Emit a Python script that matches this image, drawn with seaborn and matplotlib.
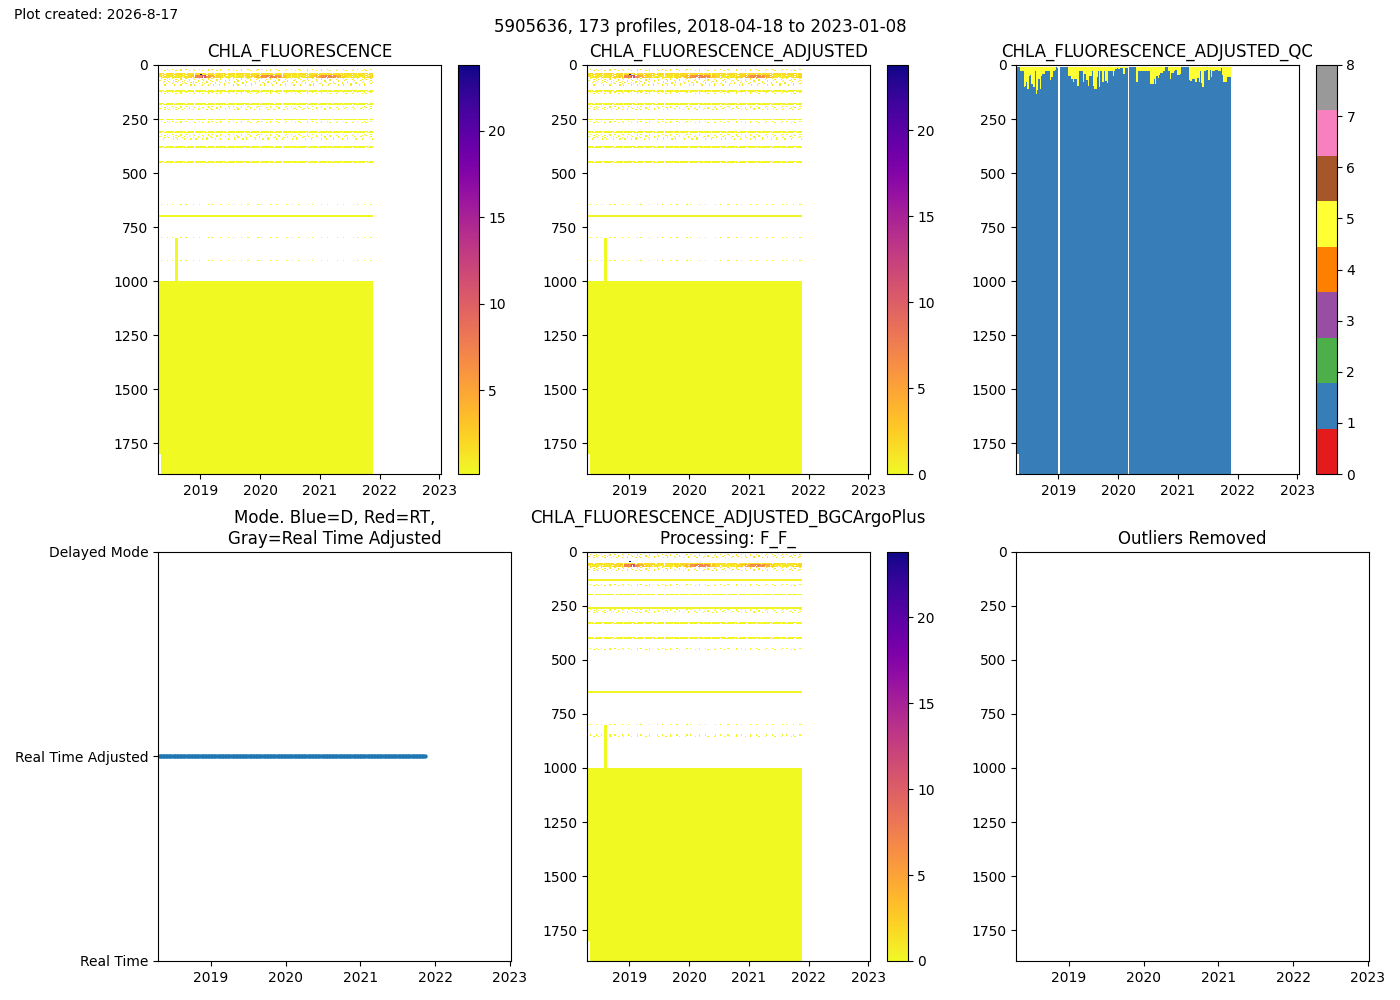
import numpy as np
import pandas as pd
import matplotlib
matplotlib.use("Agg")
import matplotlib.pyplot as plt
import matplotlib.dates as mdates
from matplotlib.colors import ListedColormap
import seaborn as sns

# Float info
float_id = "5905636"
n_profiles = 173
first_date = "2018-04-18"
last_edge_date = "2021-11-20"
title_end_date = "2023-01-08"
created = "2026-8-17"
max_pres = 1893
short_profiles = 2          # first profiles only reach 1800 m
short_bottom = 1800
deep_start = 1000

# Spike profiles (continuous samples from 800 m) and the single max value
spike_dates = ["2018-08-02", "2018-08-10"]
spike_top = 800
peak_date = "2019-01-03"
peak_depth = 42
peak_value = 23.8

# Chlorophyll near the bloom depth, month by month from 2018-04 to 2021-11
bloom_monthly = [1.5, 1.2, 1.0, 1.0, 1.0, 1.2, 1.5, 2.5, 7.0,
                 11.0, 6.0, 4.0, 2.0, 1.5, 1.0, 1.0, 1.0, 1.2, 1.5, 2.0, 3.5,
                 6.0, 7.0, 7.0, 6.0, 3.0, 1.5, 1.0, 1.0, 1.2, 1.5, 2.5, 4.5,
                 6.5, 7.0, 6.0, 4.0, 2.0, 1.2, 1.0, 1.0, 1.2, 1.5, 2.0]

# Sampled depth bands for CHLA_FLUORESCENCE (top, bottom, kind, value)
raw_tops = [22, 37, 45, 61, 118, 127, 178, 190, 250, 262, 307, 320, 379, 449, 646, 697, 796, 901]
raw_bottoms = [27, 45, 57, 93, 123, 131, 183, 210, 255, 266, 312, 345, 384, 454, 650, 702, 800, 904]
raw_kinds = ["sparse", "dashed", "dashed", "sparse", "dashed", "sparse", "dashed", "sparse",
             "dashed", "sparse", "dashed", "sparse", "dashed", "dashed", "sparse", "full",
             "sparse", "sparse"]
raw_values = [1.2, 1.5, None, 1.0, 0.5, 0.5, 0.4, 0.4, 0.3, 0.3, 0.3, 0.3, 0.25, 0.25,
              0.2, 0.2, 0.2, 0.2]
raw_deep = 0.15
adj_deep = 0.0

# Depth bands for the BGCArgoPlus product
plus_tops = [12, 52, 58, 70, 128, 154, 195, 257, 265, 326, 398, 448, 648, 796, 848]
plus_bottoms = [28, 57, 67, 88, 133, 158, 200, 262, 285, 331, 403, 452, 653, 800, 852]
plus_kinds = ["sparse", "dashed", "dashed", "sparse", "full", "sparse", "dashed", "full",
              "sparse", "dashed", "dashed", "sparse", "full", "sparse", "sparse"]
plus_values = [1.2, 1.5, None, 1.0, 0.5, 0.5, 0.4, 0.3, 0.3, 0.3, 0.25, 0.25, 0.2, 0.2, 0.2]

# Presence of a sample in a band, profile by profile
patterns_txt = {
    "full": "1" * n_profiles,
    "dashed": "111110111111101111111101111110111111111011111011111111101111110111111111110111111101"
              "111111111011111101111111111101111111101111111011111111110111111110111111111101111111101111111111",
    "sparse": "001000010001000000100010000010000100000010010000001000001000100000010000100000001001"
              "000000100001000000010001000001000000100010000001000010000000100001000000010010000010000100010000",
    "scattered": "101100101001101000110100101011001010011010010110010100110101100101001011010011001010"
                 "110010100101101001100101011001010010110100110100101011001010011010100101100101001101010110010100",
}

# QC: depth (m) down to which QC = 5, below is QC = 1; nan = no QC for that profile
qc5_depth = [0, 0, 0, 29, 29, 29, 102, 95, 82, 110, 48, 45, 91, 91, 102, 32, 133, 117, 63, 110,
             48, 40, 40, 28, 28, 28, 28, 71, 56, 56, 32, 25, 9, 17, np.nan, 0, 0, 0, 0, 0, 0, 0,
             51, 51, 63, 63, 82, 66, 66, 94, 94, 28, 32, 32, 82, 40, 71, 71, 97, 51, 51, 32, 94,
             110, 110, 56, 32, 102, 32, 79, 79, 32, 74, 86, 29, 32, 32, 32, 51, 29, 20, 17, 20, 20,
             17, 17, 40, 40,
             14, 14, np.nan, 0, 0, 0, 0, 0, 0, 82, 29, 29, 29, 32, 32, 29, 29, 29, 29, 29, 91, 91,
             91, 63, 91, 48, 60, 45, 35, 35, 29, 29, 0, 0, 29, 29, 66, 35, 35, 32, 25, 25, 45, 45,
             40, 9, 0, 0, 0, 0, 0, 71, 76, 76, 63, 63, 82, 82, 60, 82, 29, 86, 102, 29, 29, 25, 25,
             71, 25, 56, 29, 29, 25, 25, 25, 29, 29, 14, 45, 79, 79, 79, 56, 56, 56]
qc_top = 8

# Data mode of each profile: R = real time, A = real time adjusted, D = delayed
data_mode = ["A"] * n_profiles
mode_labels = ["Real Time", "Real Time Adjusted", "Delayed Mode"]

# ---- grids ----
edges = pd.date_range(first_date, last_edge_date, periods=n_profiles + 1)
dates = edges[:-1]
depth_step = 5
depth_edges = np.arange(0, max_pres + depth_step, depth_step)
depth_mid = depth_edges[:-1] + depth_step / 2
patterns = {k: np.array([c == "1" for c in v.ljust(n_profiles, "1")[:n_profiles]])
            for k, v in patterns_txt.items()}
month_idx = (dates.year - 2018) * 12 + dates.month - 4
bloom = np.array(bloom_monthly)[month_idx]


def nearest_col(d):
    return int(np.argmin(np.abs(dates - pd.Timestamp(d))))


def build_chl(tops, bottoms, kinds, values, deep_value):
    chl = np.full((len(depth_mid), n_profiles), np.nan)
    for top, bottom, kind, value in zip(tops, bottoms, kinds, values):
        rows = range(int(top // depth_step), int(np.ceil(bottom / depth_step)))
        vals = bloom if value is None else np.full(n_profiles, value)
        for j, row in enumerate(rows):
            mask = np.roll(patterns[kind], 7 * j)
            chl[row, mask] = vals[mask]
    chl[depth_mid >= deep_start, :] = deep_value
    chl[depth_mid > short_bottom, :short_profiles] = np.nan
    spike = (depth_mid >= spike_top) & (depth_mid < deep_start)
    for d in spike_dates:
        chl[spike, nearest_col(d)] = deep_value
    chl[int(peak_depth // depth_step), nearest_col(peak_date)] = peak_value
    return chl


chl_raw = build_chl(raw_tops, raw_bottoms, raw_kinds, raw_values, raw_deep)
chl_adj = build_chl(raw_tops, raw_bottoms, raw_kinds, raw_values, adj_deep)
chl_plus = build_chl(plus_tops, plus_bottoms, plus_kinds, plus_values, adj_deep)

qc = np.full((len(depth_mid), n_profiles), np.nan)
for i, d in enumerate(qc5_depth):
    if np.isnan(d):
        continue
    bottom = short_bottom if i < short_profiles else max_pres
    col = np.where((depth_mid >= qc_top) & (depth_mid <= bottom), 1.0, np.nan)
    col[(depth_mid >= qc_top) & (depth_mid < d)] = 5.0
    qc[:, i] = col

mode_num = [{"R": 0, "A": 1, "D": 2}[m] for m in data_mode]

# ---- figure ----
fig, axes = plt.subplots(2, 3, figsize=(14, 10), dpi=100)
plt.subplots_adjust(left=0.1129, right=0.978, top=0.935, bottom=0.039, wspace=0.215, hspace=0.19)
xlim = (pd.Timestamp(first_date), pd.Timestamp(title_end_date))

def depth_panel(ax, data, title, cmap, **kw):
    m = ax.pcolormesh(edges, depth_edges, data, cmap=cmap, **kw)
    fig.colorbar(m, ax=ax)
    ax.set_title(title)

depth_panel(axes[0, 0], chl_raw, "CHLA_FLUORESCENCE", "plasma_r")
depth_panel(axes[0, 1], chl_adj, "CHLA_FLUORESCENCE_ADJUSTED", "plasma_r")
qc_cmap = ListedColormap(sns.color_palette("Set1", 9))
depth_panel(axes[0, 2], qc, "CHLA_FLUORESCENCE_ADJUSTED_QC", qc_cmap, vmin=0, vmax=8)
depth_panel(axes[1, 1], chl_plus, "CHLA_FLUORESCENCE_ADJUSTED_BGCArgoPlus\nProcessing: F_F_", "plasma_r")
axes[1, 2].set_title("Outliers Removed")

# Mode panel
ax = axes[1, 0]
sns.scatterplot(x=dates, y=mode_num, ax=ax, s=10, color="tab:blue", linewidth=0)
ax.set_ylim(0, 2)
ax.set_yticks([0, 1, 2])
ax.set_yticklabels(mode_labels)
ax.set_xlabel("")
ax.set_ylabel("")
ax.set_title("Mode. Blue=D, Red=RT,\nGray=Real Time Adjusted")

for ax in axes.flat:
    ax.set_xlim(xlim)
    ax.xaxis.set_major_locator(mdates.YearLocator())
    ax.xaxis.set_major_formatter(mdates.DateFormatter("%Y"))
    if ax is not axes[1, 0]:
        ax.set_ylim(max_pres, 0)
        ax.set_yticks(np.arange(0, 1751, 250))

fig.suptitle(f"{float_id}, {n_profiles} profiles, {first_date} to {title_end_date}", y=0.982)
fig.text(0.01, 0.992, f"Plot created: {created}", va="top", fontsize=10)

plt.savefig("out.png", dpi=100)
